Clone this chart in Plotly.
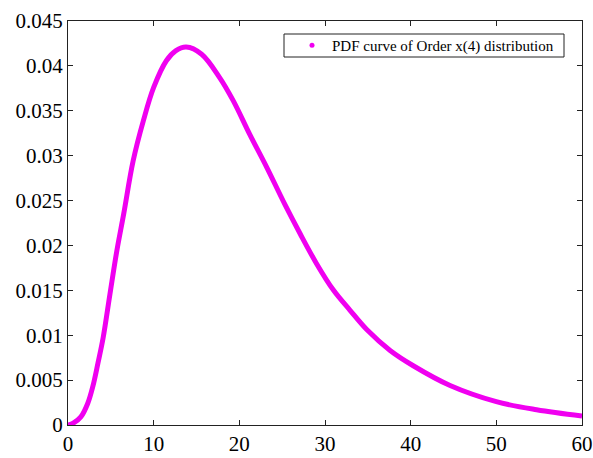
import plotly.graph_objects as go

x_vals = [0, 0.6, 1.5, 2.3, 2.9, 3.5, 4.1, 4.9, 5.7, 6.5, 7.6, 8.8, 10.0, 11.5, 12.6, 13.8,
          15.6, 17.7, 19.3, 21.2, 23.2, 25.3, 27.1, 29.0, 31.0, 32.9, 34.9, 37.6, 40.3,
          44.6, 50.0, 54.7, 60]
pdf_vals = [0, 0.0002, 0.0009, 0.0024, 0.0043, 0.0069, 0.0097, 0.0146, 0.0194, 0.0235,
            0.0294, 0.0339, 0.0376, 0.0406, 0.0417, 0.0421, 0.0413, 0.0387, 0.0361, 0.0324,
            0.0287, 0.0246, 0.0213, 0.0180, 0.0150, 0.0128, 0.0106, 0.0083, 0.0066,
            0.0044, 0.0026, 0.0017, 0.0010]
x_ticks = [0, 10, 20, 30, 40, 50, 60]
y_ticks = [0, 0.005, 0.01, 0.015, 0.02, 0.025, 0.03, 0.035, 0.04, 0.045]
y_tick_labels = ["0", "0.005", "0.01", "0.015", "0.02", "0.025", "0.03", "0.035", "0.04", "0.045"]
legend_label = "PDF curve of Order x(4) distribution"

MAG = "#f000f0"
fig = go.Figure()
fig.add_trace(go.Scatter(x=x_vals, y=pdf_vals, mode="lines",
                         line=dict(color=MAG, width=5, shape="spline", smoothing=1.0),
                         showlegend=False, cliponaxis=False))
fig.add_trace(go.Scatter(x=[None], y=[None], mode="markers", name=legend_label,
                         marker=dict(color=MAG, size=5, symbol="circle")))

axis_common = dict(showline=True, linecolor="#222", linewidth=1, mirror="ticks",
                   ticks="inside", ticklen=5, tickcolor="#222", showgrid=False,
                   zeroline=False, automargin=False,
                   tickfont=dict(family="Liberation Serif", size=21, color="black"))
fig.update_xaxes(range=[0, 60], tickvals=x_ticks, ticktext=[str(t) for t in x_ticks],
                 **axis_common)
fig.update_yaxes(range=[0, 0.045], tickvals=y_ticks, ticktext=y_tick_labels, **axis_common)

# legend frame (box drawn around the legend entry)
fig.add_shape(type="rect", xref="paper", yref="paper",
              x0=(284 - 68) / 514, x1=(564 - 68) / 514,
              y0=(425 - 57) / 404, y1=(425 - 34) / 404,
              line=dict(color="#222", width=1), fillcolor="white", layer="above")

fig.update_layout(
    width=593, height=458,
    margin=dict(l=68, r=11, t=21, b=33, autoexpand=False),
    plot_bgcolor="white", paper_bgcolor="white",
    legend=dict(x=(292 - 68) / 514, y=(425 - 45.5) / 404, xanchor="left", yanchor="middle",
                bgcolor="rgba(0,0,0,0)", borderwidth=0,
                font=dict(family="Liberation Serif", size=15, color="black"),
                itemwidth=30, tracegroupgap=0),
)
fig.write_html("out.html")
